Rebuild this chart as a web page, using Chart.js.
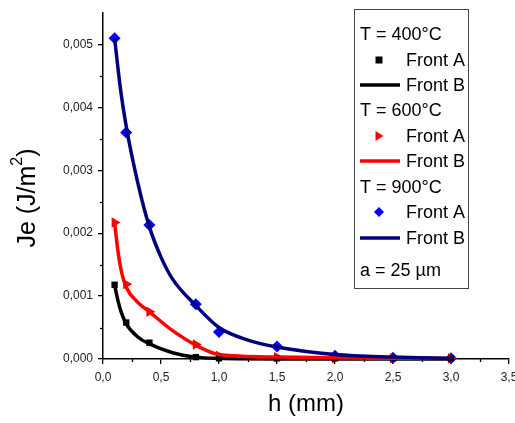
<!DOCTYPE html>
<html>
<head>
<meta charset="utf-8">
<script src="https://cdn.jsdelivr.net/npm/chart.js@4.4.0/dist/chart.umd.min.js"></script>
<style>
html,body{margin:0;padding:0;background:#fff;}
#wrap{width:515px;height:423px;position:relative;}
</style>
</head>
<body>
<div id="wrap"><canvas id="c" width="515" height="423"></canvas></div>
<script>
// ---- data ----
const hPoints = [0.1, 0.2, 0.4, 0.8, 1.0, 1.5, 2.0, 2.5, 3.0];
const t400A = [0.00118, 0.00058, 0.00026, 0.00003, 0.00001, 0.00001, 0.00001, 0.00001, 0.00001];
const t600A = [0.00217, 0.00119, 0.00075, 0.00023, 0.00005, 0.00003, 0.00001, 0.00001, 0.00001];
const t900A = [0.0051, 0.0036, 0.00213, 0.00087, 0.00043, 0.0002, 0.00005, 0.00002, 0.00001];

const hCurve400 = [0.1, 0.13, 0.16, 0.2, 0.3, 0.4, 0.6, 0.8, 1.0, 1.5, 2.0, 3.0];
const t400B = [0.00118, 0.00092, 0.00073, 0.00056, 0.00035, 0.00024, 0.0001, 0.00003, 0.00001, 0.0, 0.0, 0.0];
const hCurve600 = [0.1, 0.13, 0.16, 0.2, 0.3, 0.4, 0.6, 0.8, 1.0, 1.5, 2.0, 2.5, 3.0];
const t600B = [0.00217, 0.0017, 0.00138, 0.00114, 0.0009, 0.00075, 0.00045, 0.00022, 0.00007, 0.00003, 0.00002, 0.00001, 0.00001];
const hCurve900 = [0.1, 0.15, 0.2, 0.3, 0.4, 0.5, 0.6, 0.8, 1.0, 1.25, 1.5, 2.0, 2.5, 3.0];
const t900B = [0.0051, 0.0043, 0.0037, 0.0028, 0.0021, 0.00162, 0.00127, 0.00085, 0.0005, 0.0003, 0.00019, 0.00007, 0.00003, 0.00001];

const xTicks = [0, 0.5, 1.0, 1.5, 2.0, 2.5, 3.0, 3.5];
const yTicks = [0, 0.001, 0.002, 0.003, 0.004, 0.005];
const xMinor = [0.25, 0.75, 1.25, 1.75, 2.25, 2.75, 3.25];
const yMinor = [0.0005, 0.0015, 0.0025, 0.0035, 0.0045];

const pts = (xs, ys) => xs.map((x, i) => ({x: x, y: ys[i]}));

const NAVY = '#00007f', BLUE = '#0000ff', RED = '#ff0000', BLACK = '#000000';
const FONT = "'Liberation Sans', Arial, sans-serif";

const extras = {
  id: 'extras',
  afterDraw(chart) {
    const ctx = chart.ctx;
    const xs = chart.scales.x, ys = chart.scales.y;
    const a = chart.chartArea;
    ctx.save();
    ctx.strokeStyle = '#000';
    ctx.lineWidth = 1.3;
    xMinor.forEach(v => {
      const px = Math.round(xs.getPixelForValue(v)) + 0.5;
      ctx.beginPath(); ctx.moveTo(px, a.bottom); ctx.lineTo(px, a.bottom + 3); ctx.stroke();
    });
    yMinor.forEach(v => {
      const py = Math.round(ys.getPixelForValue(v)) + 0.5;
      ctx.beginPath(); ctx.moveTo(a.left, py); ctx.lineTo(a.left - 3, py); ctx.stroke();
    });
    // y axis title with superscript
    ctx.fillStyle = '#000';
    ctx.translate(28, 198);
    ctx.rotate(-Math.PI / 2);
    const big = '25px ' + FONT, small = '16px ' + FONT;
    const p1 = 'Je (J/m', p3 = ')';
    ctx.font = big;
    const w1 = ctx.measureText(p1).width;
    ctx.font = small;
    const w2 = ctx.measureText('2').width;
    ctx.font = big;
    const w3 = ctx.measureText(p3).width;
    const total = w1 + w2 + w3;
    let x0 = -total / 2;
    ctx.textBaseline = 'middle';
    ctx.textAlign = 'left';
    ctx.fillText(p1, x0, 0);
    ctx.font = small;
    ctx.fillText('2', x0 + w1, -10);
    ctx.font = big;
    ctx.fillText(p3, x0 + w1 + w2, 0);
    ctx.restore();

    // legend box
    ctx.save();
    ctx.strokeStyle = '#444';
    ctx.lineWidth = 1;
    ctx.fillStyle = '#fff';
    ctx.fillRect(354.5, 9.5, 114, 279);
    ctx.strokeRect(354.5, 9.5, 114, 279);
    ctx.fillStyle = '#000';
    ctx.font = '18px ' + FONT;
    ctx.textBaseline = 'middle';
    ctx.textAlign = 'left';
    const rows = [
      {t: 'T = 400°C', y: 34},
      {t: 'Front A', y: 60, m: 'sq', c: BLACK},
      {t: 'Front B', y: 85, l: BLACK},
      {t: 'T = 600°C', y: 110},
      {t: 'Front A', y: 136, m: 'tri', c: RED},
      {t: 'Front B', y: 161, l: RED},
      {t: 'T = 900°C', y: 187},
      {t: 'Front A', y: 212, m: 'dia', c: BLUE},
      {t: 'Front B', y: 238, l: NAVY},
      {t: 'a = 25 µm', y: 270}
    ];
    rows.forEach(r => {
      if (r.m || r.l) {
        ctx.fillStyle = '#000';
        ctx.fillText(r.t, 406, r.y + 1);
        if (r.l) {
          ctx.strokeStyle = r.l; ctx.lineWidth = 3.5;
          ctx.beginPath(); ctx.moveTo(360, r.y); ctx.lineTo(400, r.y); ctx.stroke();
        } else {
          ctx.fillStyle = r.c;
          const cx = 379, cy = r.y;
          ctx.beginPath();
          if (r.m === 'sq') { ctx.rect(cx - 3.5, cy - 3.5, 7, 7); }
          else if (r.m === 'tri') { ctx.moveTo(cx - 3.5, cy - 5); ctx.lineTo(cx + 4.5, cy); ctx.lineTo(cx - 3.5, cy + 5); ctx.closePath(); }
          else { ctx.moveTo(cx, cy - 5); ctx.lineTo(cx + 5, cy); ctx.lineTo(cx, cy + 5); ctx.lineTo(cx - 5, cy); ctx.closePath(); }
          ctx.fill();
        }
      } else {
        ctx.fillStyle = '#000';
        ctx.fillText(r.t, 360, r.y + 1);
      }
    });
    ctx.restore();
  }
};

new Chart(document.getElementById('c'), {
  type: 'scatter',
  data: {
    datasets: [
      {label: '400 A', data: pts(hPoints, t400A), pointStyle: 'rect', pointRadius: 4.5, backgroundColor: BLACK, borderColor: BLACK, borderWidth: 0, showLine: false, clip: false, order: 5},
      {label: '600 A', data: pts(hPoints, t600A), pointStyle: 'triangle', rotation: 90, pointRadius: 6, backgroundColor: RED, borderColor: RED, borderWidth: 0, showLine: false, clip: false, order: 5},
      {label: '900 A', data: pts(hPoints, t900A), pointStyle: 'rectRot', pointRadius: 6, backgroundColor: BLUE, borderColor: BLUE, borderWidth: 0, showLine: false, clip: false, order: 5},
      {label: '400 B', data: pts(hCurve400, t400B), showLine: true, pointRadius: 0, borderColor: BLACK, borderWidth: 3.5, cubicInterpolationMode: 'monotone', clip: false, order: 3},
      {label: '600 B', data: pts(hCurve600, t600B), showLine: true, pointRadius: 0, borderColor: RED, borderWidth: 3.5, cubicInterpolationMode: 'monotone', clip: false, order: 2},
      {label: '900 B', data: pts(hCurve900, t900B), showLine: true, pointRadius: 0, borderColor: NAVY, borderWidth: 3.5, cubicInterpolationMode: 'monotone', clip: false, order: 1}
    ]
  },
  options: {
    responsive: false,
    animation: false,
    layout: {padding: {top: 13, right: 6, left: 0, bottom: 0}},
    plugins: {legend: {display: false}, tooltip: {enabled: false}},
    scales: {
      x: {
        type: 'linear', min: 0, max: 3.5,
        afterBuildTicks: s => { s.ticks = xTicks.map(v => ({value: v})); },
        afterFit: s => { s.height = 64; s.paddingLeft = 0; s.paddingRight = 0; },
        grid: {display: true, drawOnChartArea: false, drawTicks: true, tickLength: 5, color: '#000', lineWidth: 1.3},
        border: {display: true, color: '#000', width: 1.5},
        ticks: {color: '#222', font: {family: FONT, size: 12}, padding: 6, maxRotation: 0, autoSkip: false,
          callback: v => v.toFixed(1).replace('.', ',')},
        title: {display: true, text: 'h (mm)', color: '#000', font: {family: FONT, size: 24}, padding: {top: 7}}
      },
      y: {
        type: 'linear', min: 0, max: 0.0055,
        afterBuildTicks: s => { s.ticks = yTicks.map(v => ({value: v})); },
        afterFit: s => { s.width = 103; s.paddingTop = 0; s.paddingBottom = 0; },
        grid: {display: true, drawOnChartArea: false, drawTicks: true, tickLength: 5, color: '#000', lineWidth: 1.3},
        border: {display: true, color: '#000', width: 1.5},
        ticks: {color: '#222', font: {family: FONT, size: 12}, padding: 5, autoSkip: false,
          callback: v => v.toFixed(3).replace('.', ',')}
      }
    }
  },
  plugins: [extras]
});
</script>
</body>
</html>
